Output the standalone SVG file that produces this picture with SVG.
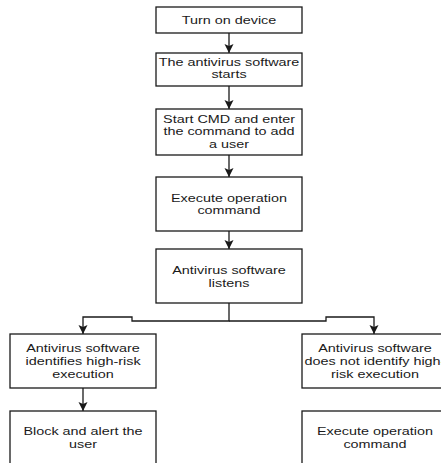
<svg xmlns="http://www.w3.org/2000/svg" width="441" height="463" viewBox="0 0 441 463">
<style>
.box{fill:#ffffff;stroke:#1a1a1a;stroke-width:1.3}
.lbl{font-family:"Liberation Sans",Arial,sans-serif;font-size:11px;fill:#1a1a1a;text-anchor:middle}
.edge{fill:none;stroke:#1a1a1a;stroke-width:1.3}
</style>
<defs>
<marker id="arr" markerUnits="userSpaceOnUse" markerWidth="11" markerHeight="11" viewBox="0 0 11 11" refX="10" refY="5.5" orient="auto">
<path d="M1,1 L10,5.5 L1,10 L3,5.5 z" fill="#1a1a1a"/>
</marker>
</defs>
<rect width="441" height="463" fill="#ffffff"/>
<g id="connectors">
<path class="edge" d="M229,33 V53" marker-end="url(#arr)"/>
<path class="edge" d="M229,86 V109" marker-end="url(#arr)"/>
<path class="edge" d="M229,155 V177" marker-end="url(#arr)"/>
<path class="edge" d="M229,231 V249" marker-end="url(#arr)"/>
<path class="edge" d="M229,303 V321 H132 V317 H83 V334" marker-end="url(#arr)"/>
<path class="edge" d="M229,321 H326 V317 H374 V334" marker-end="url(#arr)"/>
<path class="edge" d="M83,388 V411" marker-end="url(#arr)"/>
</g>
<g id="n1">
<rect class="box" x="156" y="7" width="146" height="26"/>
<text class="lbl" transform="translate(229,24) scale(1.31,1)">Turn on device</text>
</g>
<g id="n2">
<rect class="box" x="156" y="53" width="146" height="33"/>
<text class="lbl" transform="translate(229,65.5) scale(1.31,1)"><tspan x="0" y="0">The antivirus software</tspan><tspan x="0" y="12.5">starts</tspan></text>
</g>
<g id="n3">
<rect class="box" x="156" y="109" width="146" height="46"/>
<text class="lbl" transform="translate(229,122.5) scale(1.31,1)"><tspan x="0" y="0">Start CMD and enter</tspan><tspan x="0" y="13">the command to add</tspan><tspan x="0" y="26">a user</tspan></text>
</g>
<g id="n4">
<rect class="box" x="156" y="177" width="146" height="54"/>
<text class="lbl" transform="translate(229,201.5) scale(1.31,1)"><tspan x="0" y="0">Execute operation</tspan><tspan x="0" y="13">command</tspan></text>
</g>
<g id="n5">
<rect class="box" x="156" y="249" width="146" height="54"/>
<text class="lbl" transform="translate(229,274) scale(1.31,1)"><tspan x="0" y="0">Antivirus software</tspan><tspan x="0" y="13">listens</tspan></text>
</g>
<g id="n6">
<rect class="box" x="10" y="334" width="146" height="54"/>
<text class="lbl" transform="translate(83,352) scale(1.31,1)"><tspan x="0" y="0">Antivirus software</tspan><tspan x="0" y="13">identifies high-risk</tspan><tspan x="0" y="26">execution</tspan></text>
</g>
<g id="n7">
<rect class="box" x="302" y="334" width="146" height="54"/>
<text class="lbl" transform="translate(375,352) scale(1.31,1)"><tspan x="0" y="0">Antivirus software</tspan><tspan x="0" y="13">does not identify high-</tspan><tspan x="0" y="26">risk execution</tspan></text>
</g>
<g id="n8">
<rect class="box" x="10" y="411" width="146" height="64"/>
<text class="lbl" transform="translate(83,435) scale(1.31,1)"><tspan x="0" y="0">Block and alert the</tspan><tspan x="0" y="13">user</tspan></text>
</g>
<g id="n9">
<rect class="box" x="302" y="411" width="146" height="64"/>
<text class="lbl" transform="translate(375,435) scale(1.31,1)"><tspan x="0" y="0">Execute operation</tspan><tspan x="0" y="13">command</tspan></text>
</g>
</svg>
